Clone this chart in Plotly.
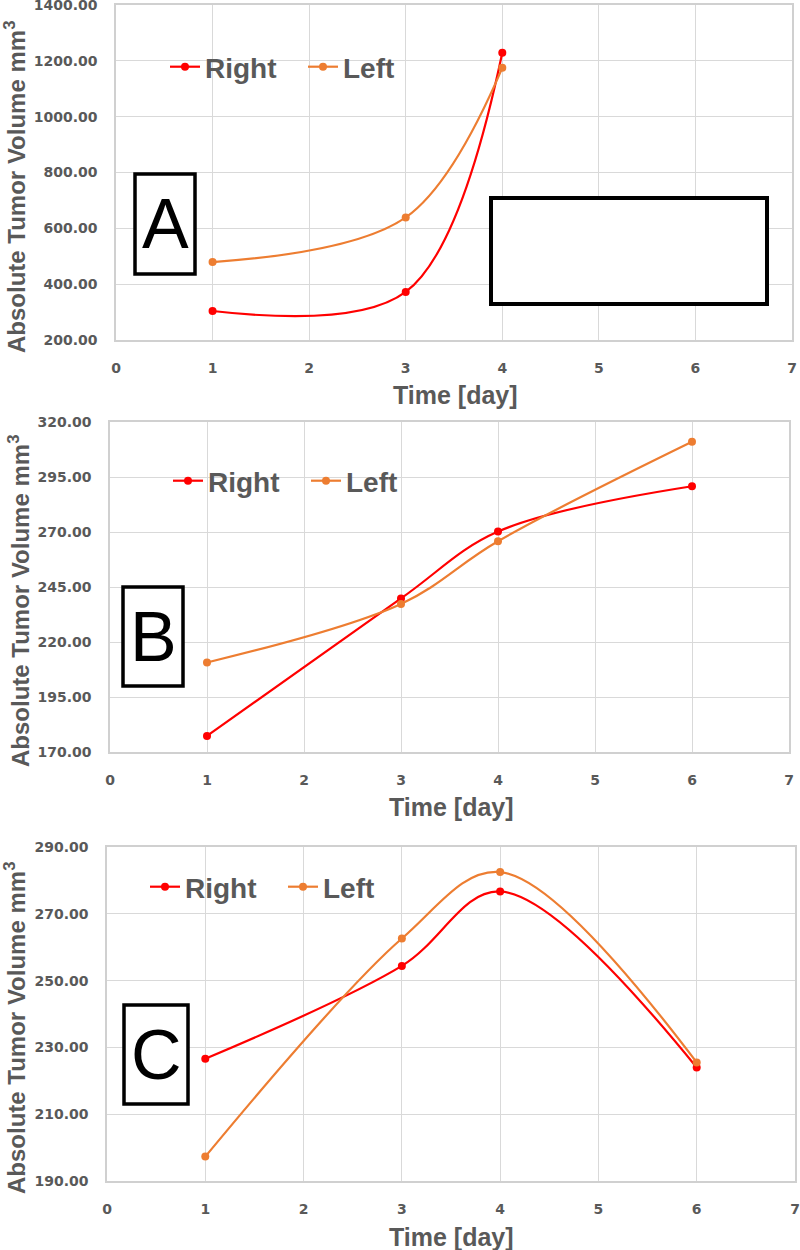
import plotly.graph_objects as go

# ---------------- data ----------------
days_a = [1, 3, 4]
right_a = [304, 372, 1229]
left_a = [479, 639, 1175]

days_bc = [1, 3, 4, 6]
right_b = [177.3, 239.8, 270.2, 290.8]
left_b = [210.7, 237.3, 265.8, 311.0]

right_c = [226.6, 254.4, 276.7, 224.0]
left_c = [197.3, 262.6, 282.5, 225.5]

series_names = ["Right", "Left"]
panel_letters = ["A", "B", "C"]
y_ticks = [
    [200, 400, 600, 800, 1000, 1200, 1400],
    [170, 195, 220, 245, 270, 295, 320],
    [190, 210, 230, 250, 270, 290],
]
x_ticks = [0, 1, 2, 3, 4, 5, 6, 7]
x_title = "Time [day]"
y_title = "Absolute Tumor Volume mm<sup>3</sup>"

# ---------------- style ----------------
W, H = 800, 1250
RED = "#ff0000"
ORANGE = "#ed7d31"
GRAY = "#595959"
GRID = "#d9d9d9"


def px(x):
    return x / W


def py(y):
    return 1 - y / H


# pixel layout of each panel: (left, right, top, bottom)
panels = [(116, 792, 5, 340), (110, 789, 422, 752), (107, 795, 847, 1181)]

fig = go.Figure()

data = [
    (days_a, right_a, left_a),
    (days_bc, right_b, left_b),
    (days_bc, right_c, left_c),
]

for i, (xs, r, l) in enumerate(data):
    ax = "" if i == 0 else str(i + 1)
    leg = "legend" if i == 0 else f"legend{i + 1}"
    for name, ys, col in [(series_names[0], r, RED), (series_names[1], l, ORANGE)]:
        fig.add_trace(go.Scatter(
            x=xs, y=ys, name=name, mode="lines+markers",
            line=dict(color=col, width=2.2, shape="spline", smoothing=1.0),
            marker=dict(color=col, size=8),
            xaxis="x" + ax, yaxis="y" + ax, legend=leg,
        ))

layout = dict(
    width=W, height=H,
    margin=dict(l=0, r=0, t=0, b=0, pad=0),
    paper_bgcolor="white", plot_bgcolor="white",
    font=dict(family="Liberation Sans, Arial", color=GRAY),
    annotations=[], shapes=[],
)

tickfont = dict(family="DejaVu Sans", size=14, color=GRAY, weight="bold")

legend_pos = [(165, 67), (168, 481), (145, 887)]

for i, (L, R, T, B) in enumerate(panels):
    ax = "" if i == 0 else str(i + 1)
    layout["xaxis" + ax] = dict(
        domain=[px(L), px(R)], anchor="y" + ax, range=[0, 7],
        tickvals=x_ticks, showgrid=True, gridcolor=GRID, gridwidth=1,
        showline=True, linecolor="#d0d0d0", linewidth=1.5, mirror=True,
        zeroline=False, ticks="", tickfont=tickfont, ticklabelstandoff=14,
        automargin=False, ticklabeloverflow="allow",
    )
    layout["yaxis" + ax] = dict(
        domain=[py(B), py(T)], anchor="x" + ax,
        range=[y_ticks[i][0], y_ticks[i][-1]],
        tickvals=y_ticks[i], tickformat=".2f", showgrid=True, gridcolor=GRID,
        gridwidth=1, showline=True, linecolor="#d0d0d0", linewidth=1.5,
        mirror=True, zeroline=False, ticks="", tickfont=tickfont,
        ticklabelstandoff=14, automargin=False, ticklabeloverflow="allow",
    )
    lx, ly = legend_pos[i]
    layout["legend" if i == 0 else f"legend{i + 1}"] = dict(
        x=px(lx), y=py(ly), xanchor="left", yanchor="middle",
        orientation="h", bgcolor="rgba(0,0,0,0)",
        font=dict(family="Liberation Sans, Arial", size=28, color=GRAY,
                  weight="bold"),
        itemwidth=30, entrywidth=93, tracegroupgap=0,
    )

# axis titles as annotations
ytitle_pos = [(15, 187), (19, 601), (15, 1028)]
xtitle_pos = [(455, 395), (451, 807), (451, 1237)]
for i in range(3):
    x, y = ytitle_pos[i]
    layout["annotations"].append(dict(
        text=y_title, x=px(x), y=py(y), xref="paper", yref="paper",
        showarrow=False, textangle=-90, xanchor="center", yanchor="middle",
        font=dict(family="Liberation Sans, Arial", size=24, color=GRAY,
                  weight="bold"),
    ))
    x, y = xtitle_pos[i]
    layout["annotations"].append(dict(
        text=x_title, x=px(x), y=py(y), xref="paper", yref="paper",
        showarrow=False, xanchor="center", yanchor="middle",
        font=dict(family="Liberation Sans, Arial", size=25, color=GRAY,
                  weight="bold"),
    ))

# panel letter boxes
boxes = [(135, 195, 174, 274), (123, 183, 587, 686), (124, 188, 1005, 1104)]
for i, (x0, x1, y0, y1) in enumerate(boxes):
    layout["shapes"].append(dict(
        type="rect", xref="paper", yref="paper",
        x0=px(x0), x1=px(x1), y0=py(y1), y1=py(y0),
        line=dict(color="black", width=3.5), fillcolor="white", layer="above",
    ))
    layout["annotations"].append(dict(
        text=panel_letters[i], x=px((x0 + x1) / 2), y=py((y0 + y1) / 2),
        xref="paper", yref="paper", showarrow=False,
        xanchor="center", yanchor="middle",
        font=dict(family="Liberation Sans, Arial", size=70, color="black"),
    ))

# empty rectangle in panel A
layout["shapes"].append(dict(
    type="rect", xref="paper", yref="paper",
    x0=px(491), x1=px(767), y0=py(304), y1=py(198),
    line=dict(color="black", width=4), fillcolor="white", layer="above",
))

fig.update_layout(**layout)
fig.write_html(
    "out.html",
    config={"displayModeBar": False},
    post_script="document.body.style.margin='0';"
                "document.body.style.overflow='hidden';",
)
